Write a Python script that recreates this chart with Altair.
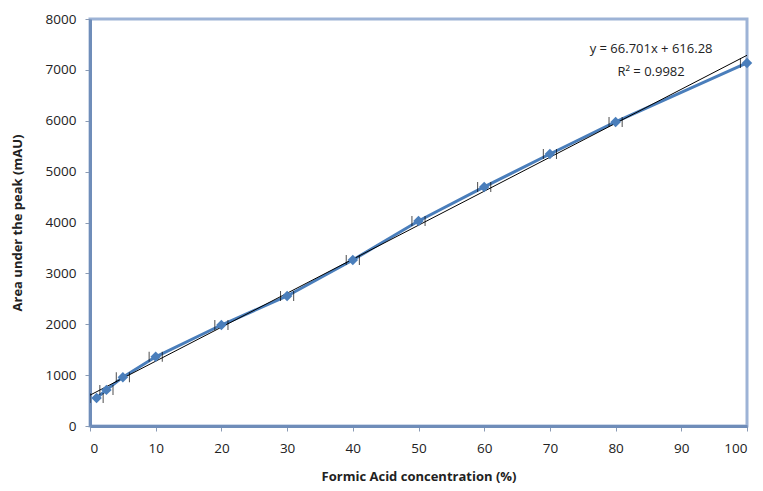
import altair as alt
import pandas as pd

conc = [1, 2.5, 5, 10, 20, 30, 40, 50, 60, 70, 80, 100]
area = [550, 710, 960, 1360, 1985, 2555, 3263, 4030, 4700, 5347, 5976, 7136]
x_ticks = [0, 10, 20, 30, 40, 50, 60, 70, 80, 90, 100]
y_ticks = [0, 1000, 2000, 3000, 4000, 5000, 6000, 7000, 8000]
eq_lines = ["y = 66.701x + 616.28", "R² = 0.9982"]
eq_x = [85.4, 85.4]
eq_y = [7410, 6960]

df = pd.DataFrame({"conc": conc, "area": area})
eq_df = pd.DataFrame({"t": eq_lines, "x": eq_x, "y": eq_y})

FONT = "Open Sans"
BLUE = "#4A7EBB"
AXIS = "#6F8DB9"

xs = alt.Scale(domain=[0, 100], nice=False)
ys = alt.Scale(domain=[0, 8000], nice=False)

base = alt.Chart(df)

line = base.mark_line(color=BLUE, strokeWidth=3, clip=True).encode(
    x=alt.X("conc:Q", scale=xs,
            axis=alt.Axis(values=x_ticks, format="d", title="Formic Acid concentration (%)",
                          labelPadding=10, titlePadding=16)),
    y=alt.Y("area:Q", scale=ys,
            axis=alt.Axis(values=y_ticks, format="d", title="Area under the peak (mAU)",
                          labelPadding=9, titlePadding=21)),
)

trend = base.transform_regression("conc", "area", extent=[0, 100]).mark_line(
    color="black", strokeWidth=1, clip=True).encode(
    x=alt.X("conc:Q", scale=xs), y=alt.Y("area:Q", scale=ys))

pts = base.mark_point(shape="diamond", filled=True, color=BLUE, size=110, opacity=1).encode(
    x=alt.X("conc:Q", scale=xs), y=alt.Y("area:Q", scale=ys))

caps_l = base.transform_calculate(xc="datum.conc - 1").mark_tick(
    color="black", size=10, thickness=1, orient="vertical", clip=True).encode(
    x=alt.X("xc:Q", scale=xs), y=alt.Y("area:Q", scale=ys))
caps_r = base.transform_calculate(xc="datum.conc + 1").mark_tick(
    color="black", size=10, thickness=1, orient="vertical", clip=True).encode(
    x=alt.X("xc:Q", scale=xs), y=alt.Y("area:Q", scale=ys))

eq = alt.Chart(eq_df).mark_text(font=FONT, fontSize=13, color="#222", align="center").encode(
    x=alt.X("x:Q", scale=xs), y=alt.Y("y:Q", scale=ys), text="t:N")

chart = alt.layer(line, trend, pts, caps_l, caps_r, eq).properties(
    width=657, height=407,
    autosize=alt.AutoSizeParams(type="none"),
    padding={"left": 82, "top": 11, "right": 8, "bottom": 64},
).configure_view(
    stroke="#9DB3D6", strokeWidth=3
).configure_axis(
    grid=False, domainColor=AXIS, domainWidth=3, tickColor="#8A9BB5", tickSize=5,
    labelFont=FONT, labelFontSize=13.5, labelColor="#222",
    titleFont=FONT, titleFontSize=13, titleFontWeight="bold", titleColor="#222",
)

chart.save("out.html", embed_options={"renderer": "svg", "actions": False})
